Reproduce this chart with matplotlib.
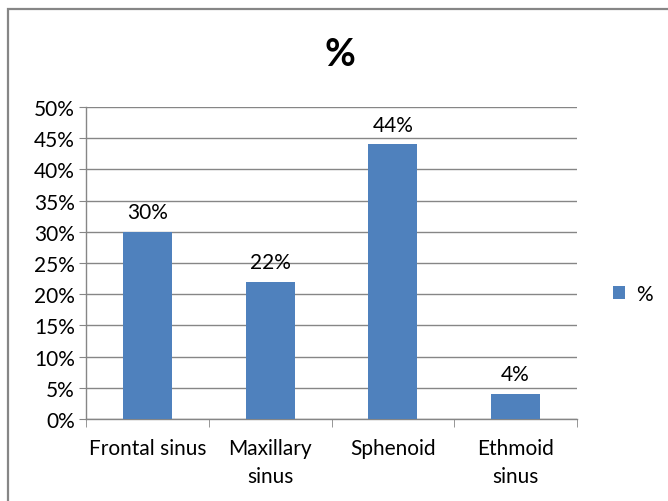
import matplotlib
matplotlib.use("Agg")
import matplotlib.pyplot as plt
from matplotlib.patches import Rectangle
from matplotlib.ticker import FuncFormatter, MultipleLocator

categories = ["Frontal sinus", "Maxillary\nsinus", "Sphenoid", "Ethmoid\nsinus"]
values = [30, 22, 44, 4]
series_name = "%"

plt.rcParams["font.family"] = ["Lato", "DejaVu Sans"]

BAR = "#4F81BD"
GRID = "#868686"
TEXT = "#000000"
FS = 15

fig = plt.figure(figsize=(6.68, 5.02), dpi=100)
fig.patch.set_facecolor("white")

# chart frame
fig.patches.append(Rectangle((8 / 668, -0.1), 1.2, 1 - 10 / 502 + 0.1,
                             transform=fig.transFigure, fill=False,
                             edgecolor=GRID, linewidth=1.6))

ax = fig.add_axes([86 / 668, 1 - 420 / 502, (577 - 86) / 668, (420 - 108) / 502])
x = range(len(categories))
bars = ax.bar(x, values, width=0.4, color=BAR, label=series_name, zorder=3)

for xi, v in zip(x, values):
    ax.annotate(f"{v}%", (xi, v), xytext=(0, 7), textcoords="offset points",
                ha="center", va="bottom", fontsize=FS, color=TEXT)

ax.set_xlim(-0.5, len(categories) - 0.5)
ax.set_ylim(0, 50)
ax.yaxis.set_major_locator(MultipleLocator(5))
ax.yaxis.set_major_formatter(FuncFormatter(lambda v, p: f"{v:.0f}%"))
ax.grid(axis="y", color=GRID, linewidth=1, zorder=0)
ax.set_xticks(list(x))
ax.set_xticklabels(categories, fontsize=FS, color=TEXT, linespacing=1.45)
ax.set_xticks([i + 0.5 for i in range(-1, len(categories))], minor=True)
ax.tick_params(axis="x", which="major", length=0, pad=14)
ax.tick_params(axis="x", which="minor", length=6, color=GRID, direction="out")
ax.tick_params(axis="y", length=5, color=GRID, labelsize=FS, labelcolor=TEXT, pad=3)

for side in ("top", "right"):
    ax.spines[side].set_visible(False)
for side in ("left", "bottom"):
    ax.spines[side].set_color(GRID)
    ax.spines[side].set_linewidth(1)

fig.text(340 / 668, 1 - 55 / 502, "%", ha="center", va="center",
         fontsize=27, fontweight="bold", color=TEXT)

fig.legend(handles=[bars], labels=[series_name], loc="center left",
           bbox_to_anchor=(594 / 668, 1 - 295 / 502), frameon=False,
           fontsize=FS, handlelength=0.6, handleheight=0.6, handletextpad=0.5)

fig.savefig("out.png", dpi=100, facecolor="white")
